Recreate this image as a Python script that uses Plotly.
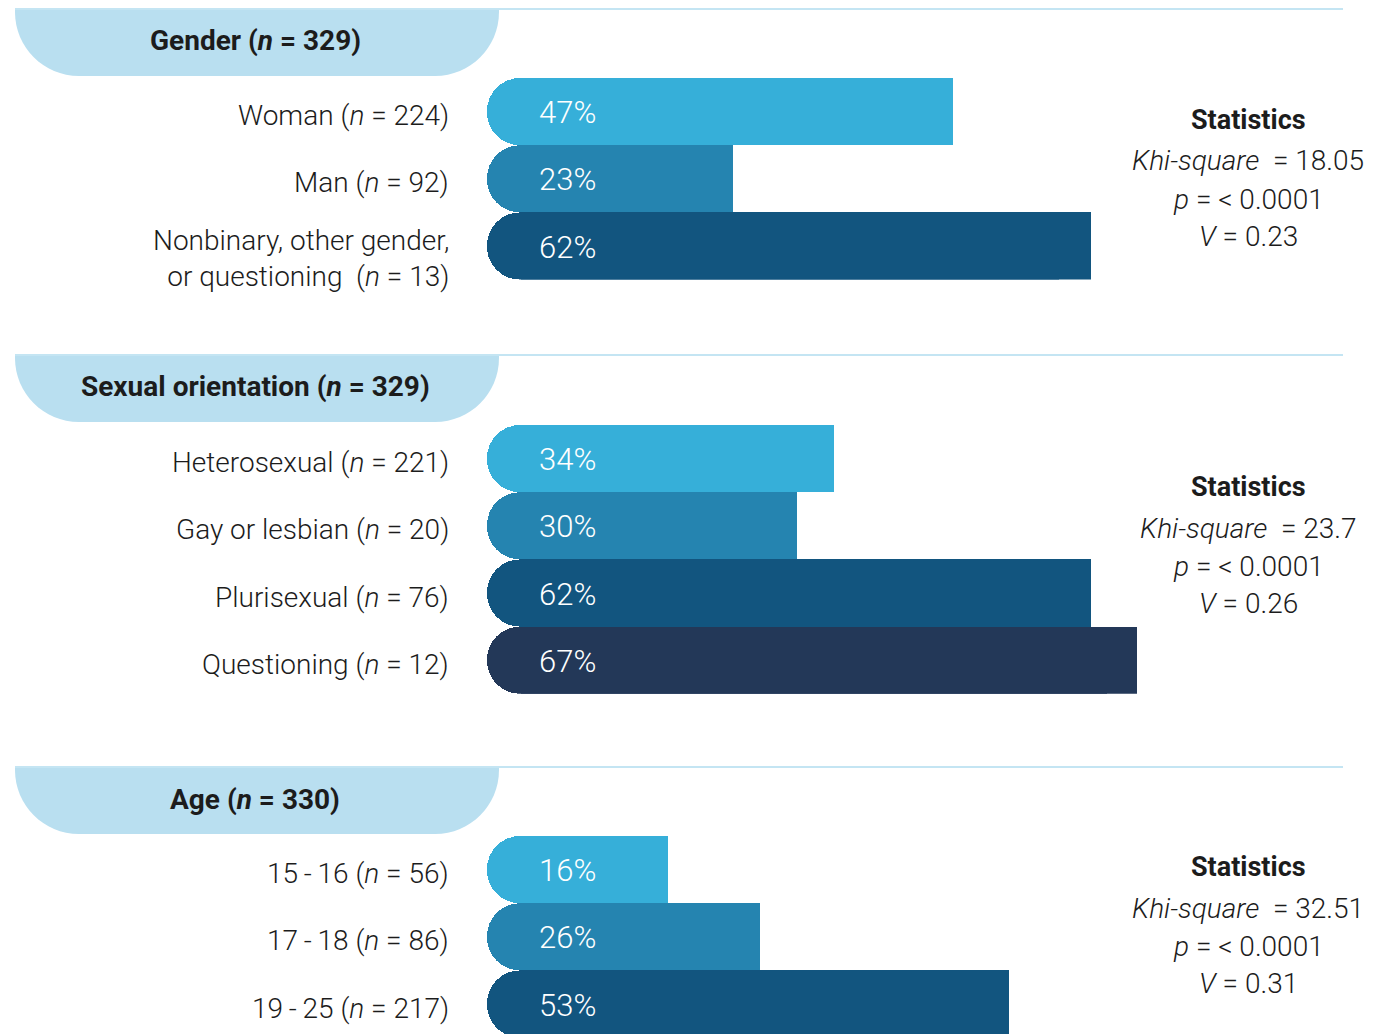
import plotly.graph_objects as go

# ---- data ----
section_titles = [
    "<b>Gender (<i>n</i> = 329)</b>",
    "<b>Sexual orientation (<i>n</i> = 329)</b>",
    "<b>Age (<i>n</i> = 330)</b>",
]

gender_labels = [
    "Woman (<i>n</i> = 224)",
    "Man (<i>n</i> = 92)",
    "Nonbinary, other gender,<br>or questioning\u00a0\u00a0(<i>n</i> = 13)",
]
gender_pct = [47, 23, 62]

orientation_labels = [
    "Heterosexual (<i>n</i> = 221)",
    "Gay or lesbian (<i>n</i> = 20)",
    "Plurisexual (<i>n</i> = 76)",
    "Questioning (<i>n</i> = 12)",
]
orientation_pct = [34, 30, 62, 67]

age_labels = [
    "15\u2009-\u200916 (<i>n</i> = 56)",
    "17\u2009-\u200918 (<i>n</i> = 86)",
    "19\u2009-\u200925 (<i>n</i> = 217)",
]
age_pct = [16, 26, 53]

khi_square = ["18.05", "23.7", "32.51"]
p_values = ["&lt; 0.0001", "&lt; 0.0001", "&lt; 0.0001"]
cramer_v = ["0.23", "0.26", "0.31"]

bar_colors = ["#36AFD9", "#2584B0", "#12557F", "#233858"]
pill_color = "#B9DFF0"
line_color = "#C4E5F3"
text_color = "#1c1c1c"

# ---- layout geometry (pixels) ----
W, H = 1387, 1034
PX_PER_PCT = 9.2
ZERO_X = 521
CAP = 3.7          # rounded cap width in % units
BAR_H = 67.2
header_tops = [8, 354, 766]
bar_tops = [78, 425, 836]
stat_tops = [120, 487, 867]
label_x = 451
stat_x = 1248
FONT = "Roboto"
LIGHT = 300


def px(x):
    return x / W


def py(y):
    return 1 - y / H


sections = [
    (gender_labels, gender_pct),
    (orientation_labels, orientation_pct),
    (age_labels, age_pct),
]

fig = go.Figure()
layout_axes = {}
annotations = []
shapes = []

for i, (labels, pct) in enumerate(sections):
    n = len(labels)
    yname = "y" if i == 0 else f"y{i + 1}"
    axkey = "yaxis" if i == 0 else f"yaxis{i + 1}"
    top = bar_tops[i]
    bottom = min(top + n * BAR_H, H)
    span = (bottom - top) / BAR_H
    layout_axes[axkey] = dict(
        domain=[py(bottom), py(top)],
        range=[-0.5 + span, -0.5],
        type="category",
        categoryorder="array",
        categoryarray=labels,
        visible=False,
        anchor="x",
    )

    # rounded bar reaching back to the left cap
    fig.add_trace(go.Bar(
        y=labels,
        x=[-(v + CAP) for v in pct],
        base=pct,
        orientation="h",
        marker=dict(color=bar_colors[:n], cornerradius="50%", line=dict(width=0)),
        yaxis=yname, xaxis="x",
        hoverinfo="skip", showlegend=False,
    ))
    # square bar 0 -> value, hides the rounding at the right end
    fig.add_trace(go.Bar(
        y=labels,
        x=pct,
        orientation="h",
        marker=dict(color=bar_colors[:n], line=dict(width=0)),
        yaxis=yname, xaxis="x",
        hoverinfo="skip", showlegend=False,
    ))

    for lab, v in zip(labels, pct):
        annotations.append(dict(
            x=1.7, xref="x", xanchor="left",
            y=lab, yref=yname, yanchor="middle", yshift=-1,
            text=f"{v}%", showarrow=False,
            font=dict(family=FONT, size=31, color="white", weight=LIGHT),
        ))
        annotations.append(dict(
            x=px(label_x), xref="paper", xanchor="right",
            y=lab, yref=yname, yanchor="middle",
            yshift=-12 if "<br>" in lab else -4,
            text=lab, showarrow=False, align="right",
            font=dict(family=FONT, size=28, color=text_color, weight=LIGHT),
        ))

    # header pill + rule
    t = header_tops[i]
    x0, x1, y0, y1 = 15, 499, t, t + 68
    rx, ry, k = 64, 64, 0.5523
    pts = [
        ("M", [(x0, y0)]),
        ("L", [(x1, y0)]),
        ("L", [(x1, y1 - ry)]),
        ("C", [(x1, y1 - ry + k * ry), (x1 - rx + k * rx, y1), (x1 - rx, y1)]),
        ("L", [(x0 + rx, y1)]),
        ("C", [(x0 + rx - k * rx, y1), (x0, y1 - ry + k * ry), (x0, y1 - ry)]),
    ]
    path = " ".join(
        cmd + " " + " ".join(f"{px(a):.5f},{py(b):.5f}" for a, b in p) for cmd, p in pts
    ) + " Z"
    shapes.append(dict(type="path", path=path, xref="paper", yref="paper",
                       fillcolor=pill_color, line=dict(width=0), layer="below"))
    shapes.append(dict(type="line", xref="paper", yref="paper",
                       x0=px(15), x1=px(1343), y0=py(t + 1), y1=py(t + 1),
                       line=dict(color=line_color, width=2), layer="below"))
    annotations.append(dict(
        x=px(255), y=py(t + 33), xref="paper", yref="paper",
        xanchor="center", yanchor="middle", showarrow=False,
        text=section_titles[i],
        font=dict(family=FONT, size=28, color=text_color),
    ))

    # statistics block
    s = stat_tops[i]
    stat_lines = [
        ("<b>Statistics</b>", 0),
        (f"<i>Khi-square</i>\u00a0\u00a0= {khi_square[i]}", 41),
        (f"<i>p</i> = {p_values[i]}", 79),
        (f"<i>V</i> = {cramer_v[i]}", 116),
    ]
    for txt, dy in stat_lines:
        annotations.append(dict(
            x=px(stat_x), y=py(s + dy), xref="paper", yref="paper",
            xanchor="center", yanchor="middle", showarrow=False,
            text=txt,
            font=dict(family=FONT, size=27 if dy == 0 else 28, color=text_color,
                      weight="normal" if dy == 0 else LIGHT),
        ))

fig.update_layout(
    width=W, height=H,
    margin=dict(l=0, r=0, t=0, b=0),
    paper_bgcolor="white", plot_bgcolor="white",
    bargap=0,
    barmode="overlay",
    xaxis=dict(range=[-ZERO_X / PX_PER_PCT, (W - ZERO_X) / PX_PER_PCT],
               domain=[0, 1], visible=False, fixedrange=True),
    shapes=shapes,
    annotations=annotations,
    showlegend=False,
    hovermode=False,
    **layout_axes,
)

fig.write_html(
    "out.html",
    config={"displayModeBar": False, "staticPlot": True},
    post_script="document.body.style.margin='0';document.body.style.overflow='hidden';",
)
